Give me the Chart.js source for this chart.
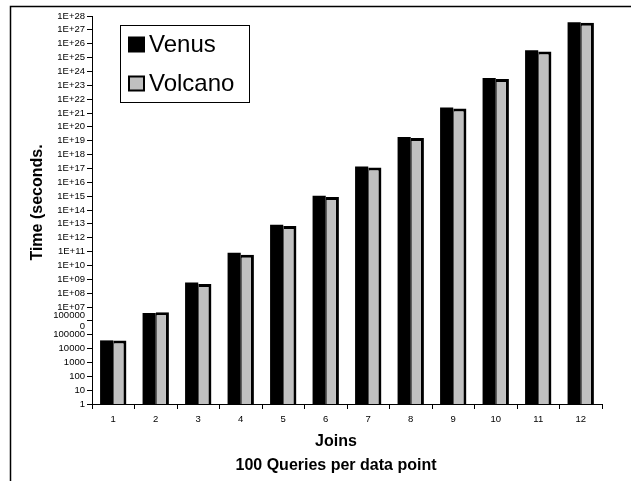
<!DOCTYPE html>
<html>
<head>
<meta charset="utf-8">
<script src="https://cdn.jsdelivr.net/npm/chart.js"></script>
<style>
    body { margin: 0; background: #fff; }
    #wrap { width: 631px; height: 481px; }
</style>
</head>
<body>
<div id="wrap"><canvas id="myChart" width="631" height="481"></canvas></div>
<script>
// data
const joins = ['1', '2', '3', '4', '5', '6', '7', '8', '9', '10', '11', '12'];
const venusTimes = [3.9e4, 3.7e6, 5.8e8, 8.3e10, 8.7e12, 1.05e15, 1.35e17, 1.86e19, 2.5e21, 3.3e23, 3.4e25, 3.5e27];
const volcanoTimes = [3.8e4, 4.2e6, 4.6e8, 6.0e10, 6.9e12, 8.5e14, 1.15e17, 1.58e19, 2.1e21, 2.8e23, 2.75e25, 3.2e27];
// one label per power of ten, 1 .. 1E+28 (1000000 wraps in the original)
const yTickLabels = ['1', '10', '100', '1000', '10000', '100000', ['100000', '0'],
    '1E+07', '1E+08', '1E+09', '1E+10', '1E+11', '1E+12', '1E+13', '1E+14', '1E+15',
    '1E+16', '1E+17', '1E+18', '1E+19', '1E+20', '1E+21', '1E+22', '1E+23', '1E+24',
    '1E+25', '1E+26', '1E+27', '1E+28'];
const xTitle = ['Joins', '100 Queries per data point'];
const yTitle = 'Time (seconds.';

const FONT = "'Liberation Sans', Arial, sans-serif";

// outer frame, cut off at right and bottom like the screenshot
const framePlugin = {
    id: 'frame',
    beforeDraw(chart) {
        const ctx = chart.ctx;
        ctx.save();
        ctx.strokeStyle = '#000';
        ctx.lineWidth = 1.5;
        ctx.beginPath();
        ctx.moveTo(10.5, chart.height + 2);
        ctx.lineTo(10.5, 6.5);
        ctx.lineTo(chart.width + 2, 6.5);
        ctx.stroke();
        ctx.restore();
    }
};

// axis titles: Excel centres them on the whole chart, not the plot
const titlesPlugin = {
    id: 'titles',
    afterDraw(chart) {
        const ctx = chart.ctx;
        ctx.save();
        ctx.fillStyle = '#000';
        ctx.font = 'bold 16px ' + FONT;
        ctx.textAlign = 'center';
        ctx.textBaseline = 'middle';
        xTitle.forEach((line, i) => ctx.fillText(line, 336, 442 + i * 23.5));
        ctx.translate(37.5, 202.5);
        ctx.rotate(-Math.PI / 2);
        ctx.fillText(yTitle, 0, 0);
        ctx.restore();
    }
};

// boxed legend inside the plot, top left
const boxLegend = {
    id: 'boxLegend',
    afterDraw(chart) {
        const ctx = chart.ctx;
        const x = 120.5, y = 25.5, w = 129, h = 77;
        ctx.save();
        ctx.fillStyle = '#fff';
        ctx.fillRect(x, y, w, h);
        ctx.strokeStyle = '#000';
        ctx.lineWidth = 1;
        ctx.strokeRect(x, y, w, h);
        ctx.font = '24px ' + FONT;
        ctx.textBaseline = 'middle';
        chart.data.datasets.forEach((ds, i) => {
            const cy = 44.5 + i * 39;
            ctx.fillStyle = '#000';
            ctx.fillRect(128, cy - 8, 17, 16);
            ctx.fillStyle = ds.backgroundColor;
            ctx.fillRect(130, cy - 6, 13, 12);
            ctx.fillStyle = '#000';
            ctx.fillText(ds.label, 149, cy + 1);
        });
        ctx.restore();
    }
};

new Chart(document.getElementById('myChart').getContext('2d'), {
    type: 'bar',
    data: {
        labels: joins,
        datasets: [
            {
                label: 'Venus',
                data: venusTimes,
                backgroundColor: '#000000',
                borderColor: '#000000',
                borderWidth: 0
            },
            {
                label: 'Volcano',
                data: volcanoTimes,
                backgroundColor: '#c0c0c0',
                borderColor: '#000000',
                borderWidth: { left: 1, right: 3, top: 3, bottom: 0 },
                borderSkipped: false
            }
        ]
    },
    options: {
        responsive: false,
        animation: false,
        devicePixelRatio: 1,
        layout: { padding: { left: 0, top: 16, right: 29, bottom: 0 } },
        categoryPercentage: 0.62,
        barPercentage: 1,
        plugins: {
            legend: { display: false },
            tooltip: { enabled: false }
        },
        scales: {
            x: {
                afterFit(scale) { scale.height = 77; },
                grid: { drawOnChartArea: false, drawTicks: true, tickLength: 5, color: '#000', offset: true },
                border: { color: '#000', width: 1 },
                ticks: { color: '#000', padding: 5, maxRotation: 0, font: { family: FONT, size: 9.5 } }
            },
            y: {
                type: 'logarithmic',
                min: 1,
                max: 1e28,
                afterFit(scale) { scale.width = 92; },
                afterBuildTicks(scale) {
                    scale.ticks = yTickLabels.map((_, i) => ({ value: Math.pow(10, i) }));
                },
                grid: { drawOnChartArea: false, drawTicks: true, tickLength: 5, color: '#000' },
                border: { color: '#000', width: 1 },
                ticks: {
                    autoSkip: false,
                    color: '#000',
                    padding: 2,
                    font: { family: FONT, size: 9.5 },
                    callback: (value, index) => yTickLabels[index]
                }
            }
        }
    },
    plugins: [framePlugin, titlesPlugin, boxLegend]
});
</script>
</body>
</html>
